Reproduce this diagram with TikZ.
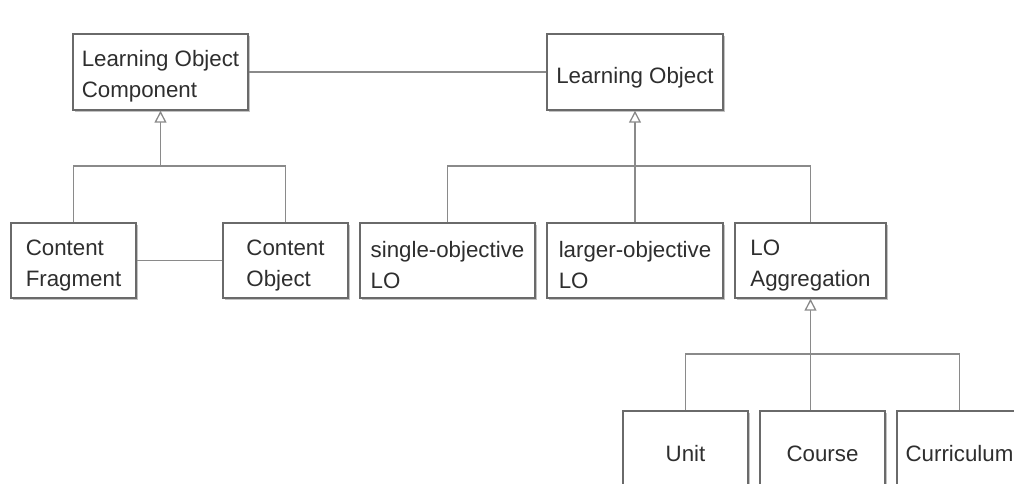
\documentclass[tikz,border=0pt]{standalone}
\usepackage{fontspec}
\setmainfont{Liberation Sans}
\usetikzlibrary{arrows.meta,shadows}
\definecolor{boxgray}{HTML}{6A6A6A}
\definecolor{linegray}{HTML}{8A8A8A}
\definecolor{textgray}{HTML}{2E2E2E}

\begin{document}
\begin{tikzpicture}[x=1pt, y=-1pt,
    cls/.style={draw=boxgray, line width=1.4pt, fill=white, text=textgray, align=left,
        font=\fontsize{22.3}{31}\selectfont, inner sep=0pt,
        execute at begin node={\rule{0pt}{28pt}},
        minimum width=125pt, minimum height=75pt,
        drop shadow={shadow xshift=2pt, shadow yshift=-2pt, fill=black!40, opacity=0.6}},
    cls2/.style={cls, execute at begin node={\rule{0pt}{56pt}}},
    link/.style={draw=linegray, line width=1.3pt},
    gen/.style={link, -{Triangle[open, length=12pt, width=12pt, fill=white]}}]
    \useasboundingbox (0,0) rectangle (1014,483);
    \clip (0,0) rectangle (1014,483);

    % top row
    \node[cls2, minimum width=175pt, minimum height=76pt] (loc) at (160.5,72) {Learning Object\\Component};
    \node[cls, minimum width=176pt, minimum height=76pt] (lo) at (635,72) {Learning Object};

    % middle row
    \node[cls2] (cf) at (73.5,260.5) {Content\\Fragment};
    \node[cls2] (co) at (285.5,260.5) {Content\\Object};
    \node[cls2, minimum width=175pt] (single) at (447.5,260.5) {single-objective\\LO};
    \node[cls2, minimum width=176pt] (larger) at (635,260.5) {larger-objective\\LO};
    \node[cls2, minimum width=151pt] (agg) at (810.5,260.5) {LO\\Aggregation};

    % bottom row (runs off the page)
    \node[cls, minimum height=74pt] (unit) at (685.5,448) {Unit};
    \node[cls, minimum height=74pt] (course) at (822.5,448) {Course};
    \node[cls, minimum height=74pt] (curr) at (959.5,448) {Curriculum};

    % associations
    \draw[link] (loc) -- (lo);
    \draw[link] (cf) -- (co);

    % generalisations
    \coordinate (j1) at (160.5,166);
    \draw[link] (cf.north) |- (j1) -| (co.north);
    \draw[gen] (j1) -- (loc.south);

    \coordinate (j2) at (635,166);
    \draw[link] (single.north) |- (j2) -| (agg.north);
    \draw[gen] (larger.north) -- (lo.south);

    \coordinate (j3) at (810.5,354);
    \draw[link] (unit.north) |- (j3) -| (curr.north);
    \draw[gen] (j3 |- course.north) -- (agg.south);
\end{tikzpicture}
\end{document}
